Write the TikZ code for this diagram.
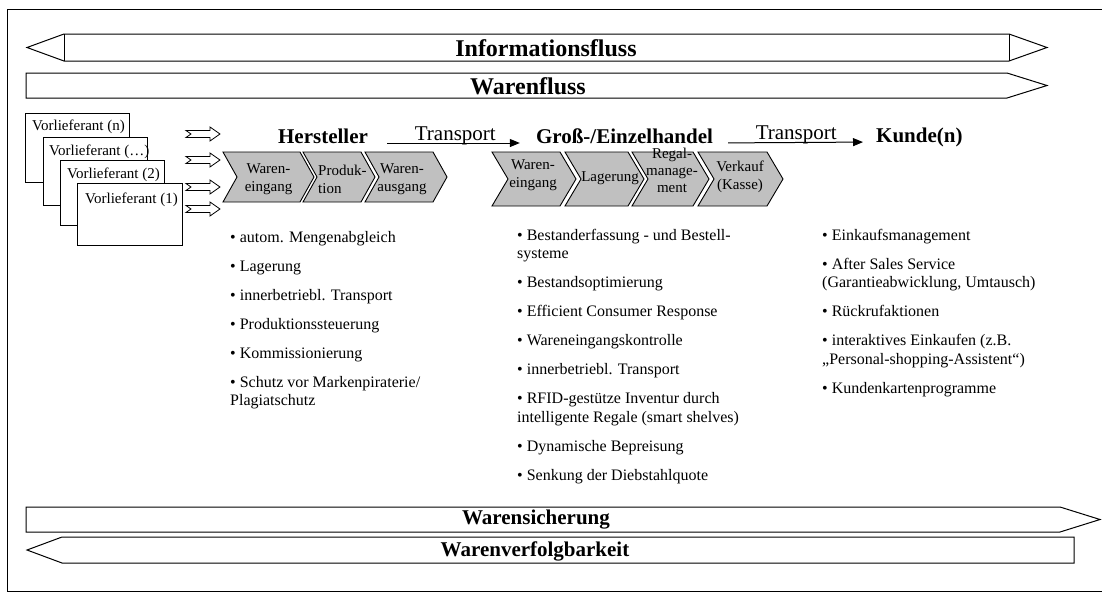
\documentclass[tikz,border=0pt]{standalone}
\usepackage{fontspec}
\setmainfont{Liberation Serif}
\usetikzlibrary{arrows.meta,calc}
\definecolor{chevgray}{RGB}{192,192,192}

% one process step drawn as a chevron: x0, width, top, bottom, depth
\newcommand{\drawchev}[5]{%
  \draw[chev] (#1,#3) -- ({#1+#2},#3) -- ({#1+#2+#5},{(#3+#4)/2}) -- ({#1+#2},#4)
    -- (#1,#4) -- ({#1+#5},{(#3+#4)/2}) -- cycle;}

\begin{document}
\begin{tikzpicture}[x=1pt,y=-1pt,
  bar/.style={draw=black,line width=1pt,fill=white,line join=miter},
  bartext/.style={font=\fontsize{24}{28}\selectfont\bfseries,inner sep=0},
  lowtext/.style={font=\fontsize{21}{25}\selectfont\bfseries,inner sep=0},
  chev/.style={draw=black,line width=0.9pt,fill=chevgray},
  chevtext/.style={font=\fontsize{15}{18}\selectfont,align=center,inner sep=0},
  head/.style={font=\fontsize{21}{25}\selectfont\bfseries,inner sep=0,anchor=base},
  transport/.style={-{Triangle[length=10pt,width=8pt]},line width=1pt},
  tlabel/.style={font=\fontsize{21}{25}\selectfont,inner sep=0,anchor=base},
  supbox/.style={draw=black,line width=1pt,fill=white,anchor=north west,inner sep=0,outer sep=0},
  suptext/.style={font=\fontsize{15}{18}\selectfont,inner sep=0,anchor=base west},
  feed/.style={draw=black,line width=0.8pt,fill=white},
  listtext/.style={inner sep=0,anchor=base west},
  feedarrow/.pic={\draw[feed] (0,-3.5) -- (24,-3.5) -- (24,-7) -- (34,0) -- (24,7)
      -- (24,3.5) -- (0,3.5) -- (5,0) -- cycle;}
]
\useasboundingbox (0,0) rectangle (1102,592);

% outer frame
\draw[line width=0.8pt] (1102,9) -- (7,9) -- (7,591) -- (1102,591);

% information flow (both directions)
\draw[bar] (27,47.5) -- (64,34) -- (1009,34) -- (1047,47.5) -- (1009,61) -- (64,61) -- cycle;
\draw[bar] (64,34) -- (64,61) (1009,34) -- (1009,61);
\node[bartext] (info) at (546,48) {Informationsfluss};

% goods flow
\draw[bar] (26,73) -- (1007,73) -- (1047,85.5) -- (1007,98) -- (26,98) -- cycle;
\node[bartext] (goods) at (528,86) {Warenfluss};

% suppliers
\node[supbox,minimum width=104pt,minimum height=69pt] (vn) at (25,113) {};
\node[suptext] (vnt) at ([shift={(7,17)}]vn.north west) {Vorlieferant (n)};
\node[supbox,minimum width=104pt,minimum height=68pt] (vd) at (43,137) {};
\node[suptext] (vdt) at ([shift={(6,18)}]vd.north west) {Vorlieferant (…)};
\node[supbox,minimum width=104pt,minimum height=65pt] (v2) at (60,160) {};
\node[suptext] (v2t) at ([shift={(7,18)}]v2.north west) {Vorlieferant (2)};
\node[supbox,minimum width=105pt,minimum height=62pt] (v1) at (77,183) {};
\node[suptext] (v1t) at ([shift={(8,20)}]v1.north west) {Vorlieferant (1)};

% deliveries into production
\pic at (186,134) {feedarrow};
\pic at (186,160) {feedarrow};
\pic at (186,187) {feedarrow};
\pic at (186,209) {feedarrow};

% stages
\node[head] (hersteller) at (323,143) {Hersteller};
\node[head] (handel) at (624.5,143) {Groß-/Einzelhandel};
\node[head,anchor=base west] (kunde) at (876,142) {Kunde(n)};

\draw[transport,shorten <=19pt,shorten >=16pt] (hersteller.base east) --
  node[tlabel,pos=0.52,yshift=3pt] (t1) {Transport} (handel.base west);
\draw[transport,shorten <=15pt,shorten >=13pt] (handel.base east) --
  node[tlabel,pos=0.51,yshift=3pt] (t2) {Transport} (kunde.base west);

% manufacturer process
\drawchev{223}{77}{152}{202}{14}
\drawchev{303}{58}{152}{202}{14}
\drawchev{365}{68}{152}{202}{14}
\node[chevtext] (m1) at (268.5,179) {Waren-\\eingang};
\node[chevtext,align=left,anchor=west] (m2) at (318,179) {Produk-\\tion};
\node[chevtext] (m3) at (402,179) {Waren-\\ausgang};

% trade process
\drawchev{492}{68}{152}{206}{16}
\drawchev{565}{63}{152}{206}{16}
\drawchev{632}{61}{152}{206}{16}
\drawchev{698}{69}{152}{206}{16}
\node[chevtext] (r1) at (533,175) {Waren-\\eingang};
\node[chevtext] (r2) at (610,178) {Lagerung};
\node[chevtext,font=\fontsize{15}{17}\selectfont] (r3) at (672,170) {Regal-\\manage-\\ment};
\node[chevtext] (r4) at (740,177) {Verkauf\\(Kasse)};

% RFID applications per stage
\node[listtext] (hlist) at (230,242) {\parbox[t]{280pt}{\fontsize{16}{18.5}\selectfont\raggedright
• autom. Mengenabgleich\\[10.5pt]%
• Lagerung\\[10.5pt]%
• innerbetriebl. Transport\\[10.5pt]%
• Produktionssteuerung\\[10.5pt]%
• Kommissionierung\\[10.5pt]%
• Schutz vor Markenpiraterie/\\%
Plagiatschutz}};

\node[listtext] (rlist) at (517,240) {\parbox[t]{280pt}{\fontsize{16}{18.5}\selectfont\raggedright
• Bestanderfassung - und Bestell-\\%
systeme\\[10.5pt]%
• Bestandsoptimierung\\[10.5pt]%
• Efficient Consumer Response\\[10.5pt]%
• Wareneingangskontrolle\\[10.5pt]%
• innerbetriebl. Transport\\[10.5pt]%
• RFID-gestütze Inventur durch\\%
intelligente Regale (smart shelves)\\[10.5pt]%
• Dynamische Bepreisung\\[10.5pt]%
• Senkung der Diebstahlquote}};

\node[listtext] (klist) at (822,240) {\parbox[t]{260pt}{\fontsize{16}{18.5}\selectfont\raggedright
• Einkaufsmanagement\\[10.5pt]%
• After Sales Service\\%
(Garantieabwicklung, Umtausch)\\[10.5pt]%
• Rückrufaktionen\\[10.5pt]%
• interaktives Einkaufen (z.B.\\%
„Personal-shopping-Assistent“)\\[10.5pt]%
• Kundenkartenprogramme}};

% securing and tracing of goods
\draw[bar] (26,507) -- (1060,507) -- (1100,519.5) -- (1060,532) -- (26,532) -- cycle;
\node[lowtext] (secure) at (536,520) {Warensicherung};
\draw[bar] (27,550) -- (62,537) -- (1074,537) -- (1074,563) -- (62,563) -- cycle;
\node[lowtext] (trace) at (535,551) {Warenverfolgbarkeit};
\end{tikzpicture}
\end{document}
